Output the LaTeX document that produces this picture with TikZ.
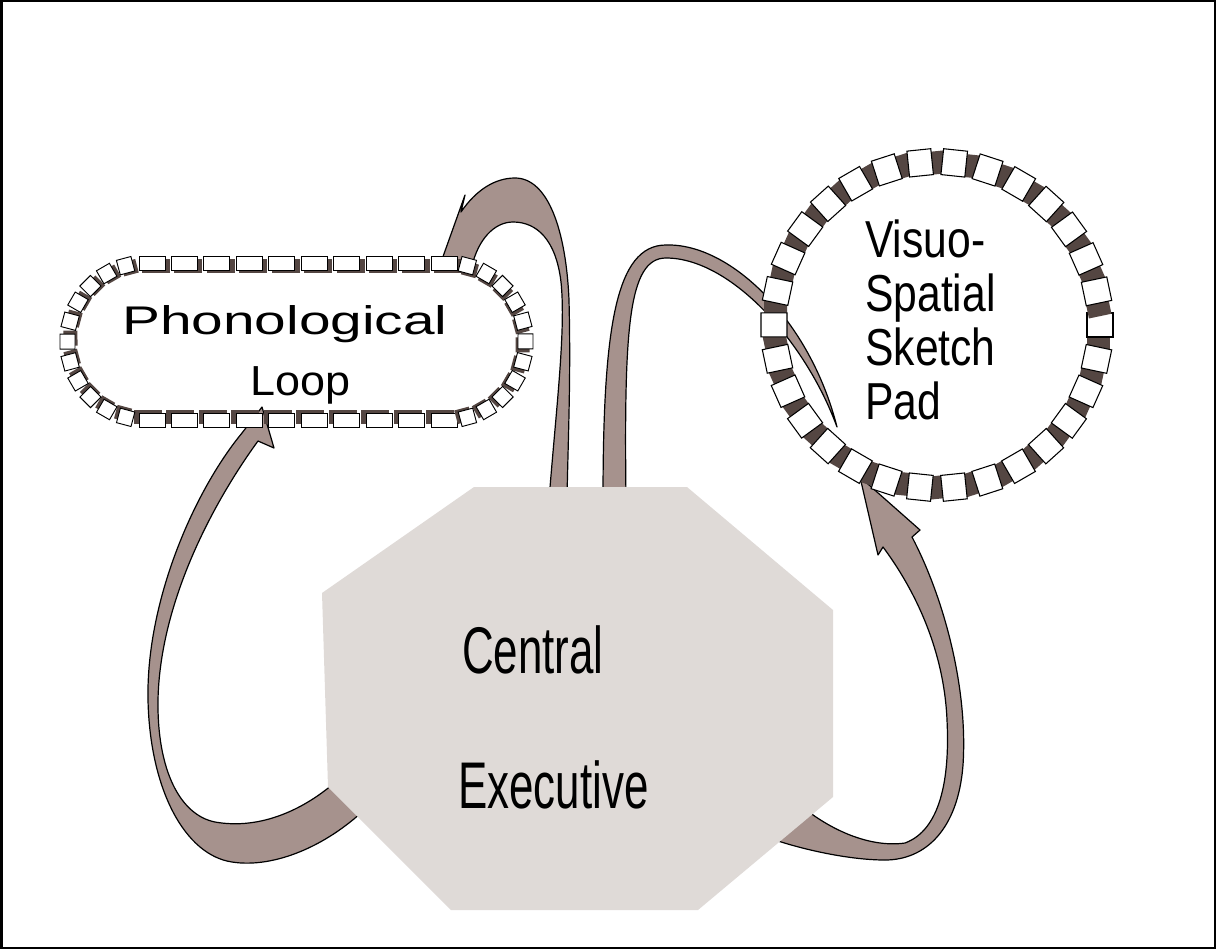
\documentclass[tikz,border=0pt]{standalone}
\usepackage{fontspec}
\setmainfont{Liberation Sans}
\usepackage{graphicx}
\usetikzlibrary{decorations.markings}
\definecolor{ribbongrey}{RGB}{166,146,141}
\definecolor{boxdark}{RGB}{84,70,66}
\definecolor{execgrey}{RGB}{223,218,215}
\newcommand{\rowcell}{%
    \fill[boxdark] (-10,-4) rectangle (18,10);
    \filldraw[fill=white, draw=black, line width=0.7pt] (-13,-7) rectangle (13,7);}
\newcommand{\capcell}{%
    \fill[boxdark] (-4,-4) rectangle (11,10);
    \filldraw[fill=white, draw=black, line width=0.7pt] (-7.5,-7.5) rectangle (7.5,7.5);}
\newcommand{\padcell}{%
    \fill[boxdark] (6,-10) rectangle (25,13);
    \filldraw[fill=white, draw=black, line width=0.8pt] (-12,-13) rectangle (12,13);}

\begin{document}
\begin{tikzpicture}[
    x=0.75pt, y=-0.75pt,
    ribbon/.style={fill=ribbongrey, draw=black, line width=0.9pt, line join=round},
    exec/.style={fill=execgrey, draw=none},
    rowmarks/.style={decorate, decoration={markings,
        mark=between positions 0 and 1 step 0.1111 with {\rowcell}}},
    capmarks/.style={decorate, decoration={markings,
        mark=between positions 0.0833 and 0.92 step 0.0833 with {\capcell}}},
    padmarks/.style={decorate, decoration={markings,
        mark=between positions 0 and 0.99 step 0.0333333 with {\padcell}}},
    looptext/.style={anchor=base west, inner sep=0pt},
    padtext/.style={font=\fontsize{39}{40}\selectfont, anchor=base west, inner sep=0pt},
    exectext/.style={font=\fontsize{49.5}{52}\selectfont, anchor=base west, inner sep=0pt},
]

\useasboundingbox (0,0) rectangle (1216,949);
\draw[line width=1.5pt] (1.5,1.5) rectangle (1214.5,947.5);

% ribbons
\draw[ribbon] (262,407) -- (274,448) -- (258,441)
    .. controls (215,500) and (160,600) .. (158,700)
    .. controls (157,770) and (180,815) .. (215,822)
    .. controls (260,830) and (305,810) .. (340,778) -- (362,812)
    .. controls (320,850) and (270,868) .. (232,862)
    .. controls (185,855) and (150,790) .. (148,700)
    .. controls (146,600) and (195,490) .. (242,433) -- cycle;

\draw[ribbon] (549,500) .. controls (556,410) and (566,330) .. (561,282)
    .. controls (556,240) and (537,222) .. (513,222)
    .. controls (494,222) and (478,240) .. (472,266) -- (440,265) -- (465,195) -- (461,212)
    .. controls (476,190) and (495,178) .. (515,178)
    .. controls (548,178) and (566,230) .. (569,300)
    .. controls (571,380) and (568,440) .. (567,500) -- cycle;

\draw[ribbon] (603,500) .. controls (603,330) and (615,245) .. (666,245)
    .. controls (730,243) and (810,320) .. (837,427)
    .. controls (805,340) and (730,258) .. (666,258)
    .. controls (628,258) and (624,330) .. (626,500) -- cycle;

\draw[ribbon] (860,477) -- (920,530) -- (912,537)
    .. controls (945,600) and (968,690) .. (963,765)
    .. controls (958,830) and (925,860) .. (885,860)
    .. controls (850,860) and (805,850) .. (775,840) -- (800,805)
    .. controls (830,830) and (870,848) .. (905,843)
    .. controls (940,830) and (950,780) .. (947,720)
    .. controls (944,650) and (915,590) .. (883,547) -- (878,555) -- cycle;

% central executive
\fill[exec] (474,487) -- (687,487) -- (833,610) -- (833,797) -- (698,910)
    -- (451,910) -- (328,787) -- (322,593) -- cycle;

% phonological loop
\path[rowmarks] (152,263) -- (444,263);
\path[rowmarks] (444,420) -- (152,420);
\path[capmarks] (447,263) arc (-90:90:78.5);
\path[capmarks] (146,420) arc (90:270:78.5);

% sketch pad
\path[padmarks] (937,325) circle (163);

\node[looptext, font=\fontsize{30}{32}\selectfont] (phon) at (122,334) {\scalebox{1.42}[1]{Phonological}};
\node[looptext, font=\fontsize{31.5}{34}\selectfont] (loop) at (250,395) {\scalebox{1.07}[1]{Loop}};
\foreach \w [count=\i from 0] in {Visuo-,Spatial,Sketch,Pad}
    \node[padtext] (pad\i) at (865,257+54*\i) {\scalebox{0.82}[1]{\w}};
\node[exectext] (central) at (462,673) {\scalebox{0.665}[1]{Central}};
\node[exectext] (executive) at (458,808) {\scalebox{0.665}[1]{Executive}};

\end{tikzpicture}
\end{document}
